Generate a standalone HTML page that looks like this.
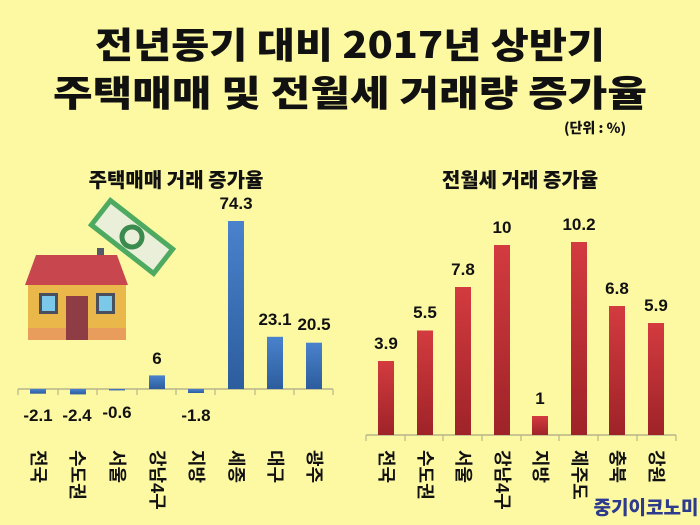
<!DOCTYPE html>
<html><head><meta charset="utf-8"><style>
body{margin:0;width:700px;height:525px;background:#fdf9a3;overflow:hidden}
svg{display:block}
text{font-family:"Liberation Sans","Noto Sans CJK KR",sans-serif;font-weight:bold;fill:#111}
.t{font-family:"Noto Sans CJK KR",sans-serif;font-weight:900}
</style></head><body>
<svg width="700" height="525" viewBox="0 0 700 525">
<defs>
<linearGradient id="b" x1="0" y1="0" x2="0" y2="1"><stop offset="0" stop-color="#4a82cc"/><stop offset="1" stop-color="#2c5d9e"/></linearGradient>
<linearGradient id="r" x1="0" y1="0" x2="0" y2="1"><stop offset="0" stop-color="#d33b3f"/><stop offset="1" stop-color="#9e2328"/></linearGradient>
</defs>
<rect width="700" height="525" fill="#fdf9a3"/>
<text class="t" x="350" y="58" font-size="36" text-anchor="middle" textLength="510" lengthAdjust="spacingAndGlyphs">전년동기 대비 2017년 상반기</text>
<text class="t" x="350" y="106" font-size="36" text-anchor="middle" textLength="594" lengthAdjust="spacingAndGlyphs">주택매매 및 전월세 거래량 증가율</text>
<text class="t" x="595" y="133" font-size="14" text-anchor="middle">(단위 : %)</text>
<text class="t" x="176" y="187" font-size="20" text-anchor="middle">주택매매 거래 증가율</text>
<text class="t" x="520" y="187" font-size="20" text-anchor="middle">전월세 거래 증가율</text>

<!-- house -->
<rect x="97" y="248" width="7" height="12" fill="#555a6a"/>
<polygon points="36,255 117,255 128,285 25,285" fill="#c8474f"/>
<rect x="28" y="285" width="98" height="50" fill="#eab84a"/>
<rect x="28" y="328" width="98" height="12" fill="#e89d5c"/>
<rect x="66" y="296" width="22" height="44" fill="#8e3d45"/>
<rect x="39" y="293" width="19" height="21" fill="#4a4f5e"/><rect x="42" y="296" width="13" height="15" fill="#7cc8e8"/>
<rect x="96" y="293" width="19" height="21" fill="#4a4f5e"/><rect x="99" y="296" width="13" height="15" fill="#7cc8e8"/>
<g transform="translate(132,237) rotate(38)">
<rect x="-42" y="-18" width="84" height="36" fill="#4daa60"/>
<rect x="-37" y="-13" width="74" height="26" fill="#e9efd8"/>
<circle r="10" fill="none" stroke="#3b8a4e" stroke-width="5"/>
</g>

<!-- left axis -->
<line x1="18" y1="389" x2="333" y2="389" stroke="#b7b48a" stroke-width="1.5"/>
<g stroke="#b7b48a" stroke-width="1.2">
<line x1="18" y1="389" x2="18" y2="395"/><line x1="58" y1="389" x2="58" y2="395"/><line x1="97" y1="389" x2="97" y2="395"/><line x1="137" y1="389" x2="137" y2="395"/><line x1="176" y1="389" x2="176" y2="395"/><line x1="215" y1="389" x2="215" y2="395"/><line x1="255" y1="389" x2="255" y2="395"/><line x1="294" y1="389" x2="294" y2="395"/><line x1="333" y1="389" x2="333" y2="395"/>
</g>
<g fill="url(#b)">
<rect x="30" y="389" width="16" height="4.7"/>
<rect x="70" y="389" width="16" height="5.4"/>
<rect x="109" y="389" width="16" height="1.4"/>
<rect x="149" y="375.4" width="16" height="13.6"/>
<rect x="188" y="389" width="16" height="4"/>
<rect x="228" y="221" width="16" height="168"/>
<rect x="267" y="336.8" width="16" height="52.2"/>
<rect x="306" y="342.7" width="16" height="46.3"/>
</g>
<g font-size="17" text-anchor="middle">
<text x="38" y="421">-2.1</text><text x="77" y="421">-2.4</text><text x="117" y="418">-0.6</text>
<text x="157" y="364">6</text><text x="196" y="421">-1.8</text>
<text x="236" y="209">74.3</text><text x="275" y="325">23.1</text><text x="314" y="330">20.5</text>
</g>
<g font-size="18" class="t" style="writing-mode:vertical-rl;text-orientation:sideways">
<text x="32" y="450">전국</text><text x="71" y="450">수도권</text><text x="111" y="450">서울</text><text x="151" y="450">강남4구</text>
<text x="190" y="450">지방</text><text x="230" y="450">세종</text><text x="269" y="450">대구</text><text x="308" y="450">광주</text>
</g>

<!-- right axis -->
<line x1="366" y1="435" x2="676" y2="435" stroke="#b7b48a" stroke-width="1.5"/>
<g stroke="#b7b48a" stroke-width="1.2">
<line x1="366" y1="435" x2="366" y2="441"/><line x1="405" y1="435" x2="405" y2="441"/><line x1="443" y1="435" x2="443" y2="441"/><line x1="482" y1="435" x2="482" y2="441"/><line x1="521" y1="435" x2="521" y2="441"/><line x1="559" y1="435" x2="559" y2="441"/><line x1="598" y1="435" x2="598" y2="441"/><line x1="637" y1="435" x2="637" y2="441"/><line x1="676" y1="435" x2="676" y2="441"/>
</g>
<g fill="url(#r)">
<rect x="378" y="361" width="16" height="74"/>
<rect x="417" y="330.5" width="16" height="104.5"/>
<rect x="455" y="287" width="16" height="148"/>
<rect x="494" y="245" width="16" height="190"/>
<rect x="532" y="416" width="16" height="19"/>
<rect x="571" y="242" width="16" height="193"/>
<rect x="609" y="306" width="16" height="129"/>
<rect x="648" y="323" width="16" height="112"/>
</g>
<g font-size="17" text-anchor="middle">
<text x="386" y="349">3.9</text><text x="425" y="318">5.5</text><text x="463" y="275">7.8</text><text x="502" y="233">10</text>
<text x="540" y="404">1</text><text x="579" y="230">10.2</text><text x="617" y="294">6.8</text><text x="656" y="311">5.9</text>
</g>
<g font-size="18" class="t" style="writing-mode:vertical-rl;text-orientation:sideways">
<text x="380" y="450">전국</text><text x="419" y="450">수도권</text><text x="457" y="450">서울</text><text x="496" y="450">강남4구</text>
<text x="534" y="450">지방</text><text x="573" y="450">제주도</text><text x="611" y="450">충북</text><text x="650" y="450">강원</text>
</g>
<text class="t" x="646" y="514" font-size="19" text-anchor="middle" style="fill:#2e3a8c">중기이코노미</text>
</svg>
</body></html>
